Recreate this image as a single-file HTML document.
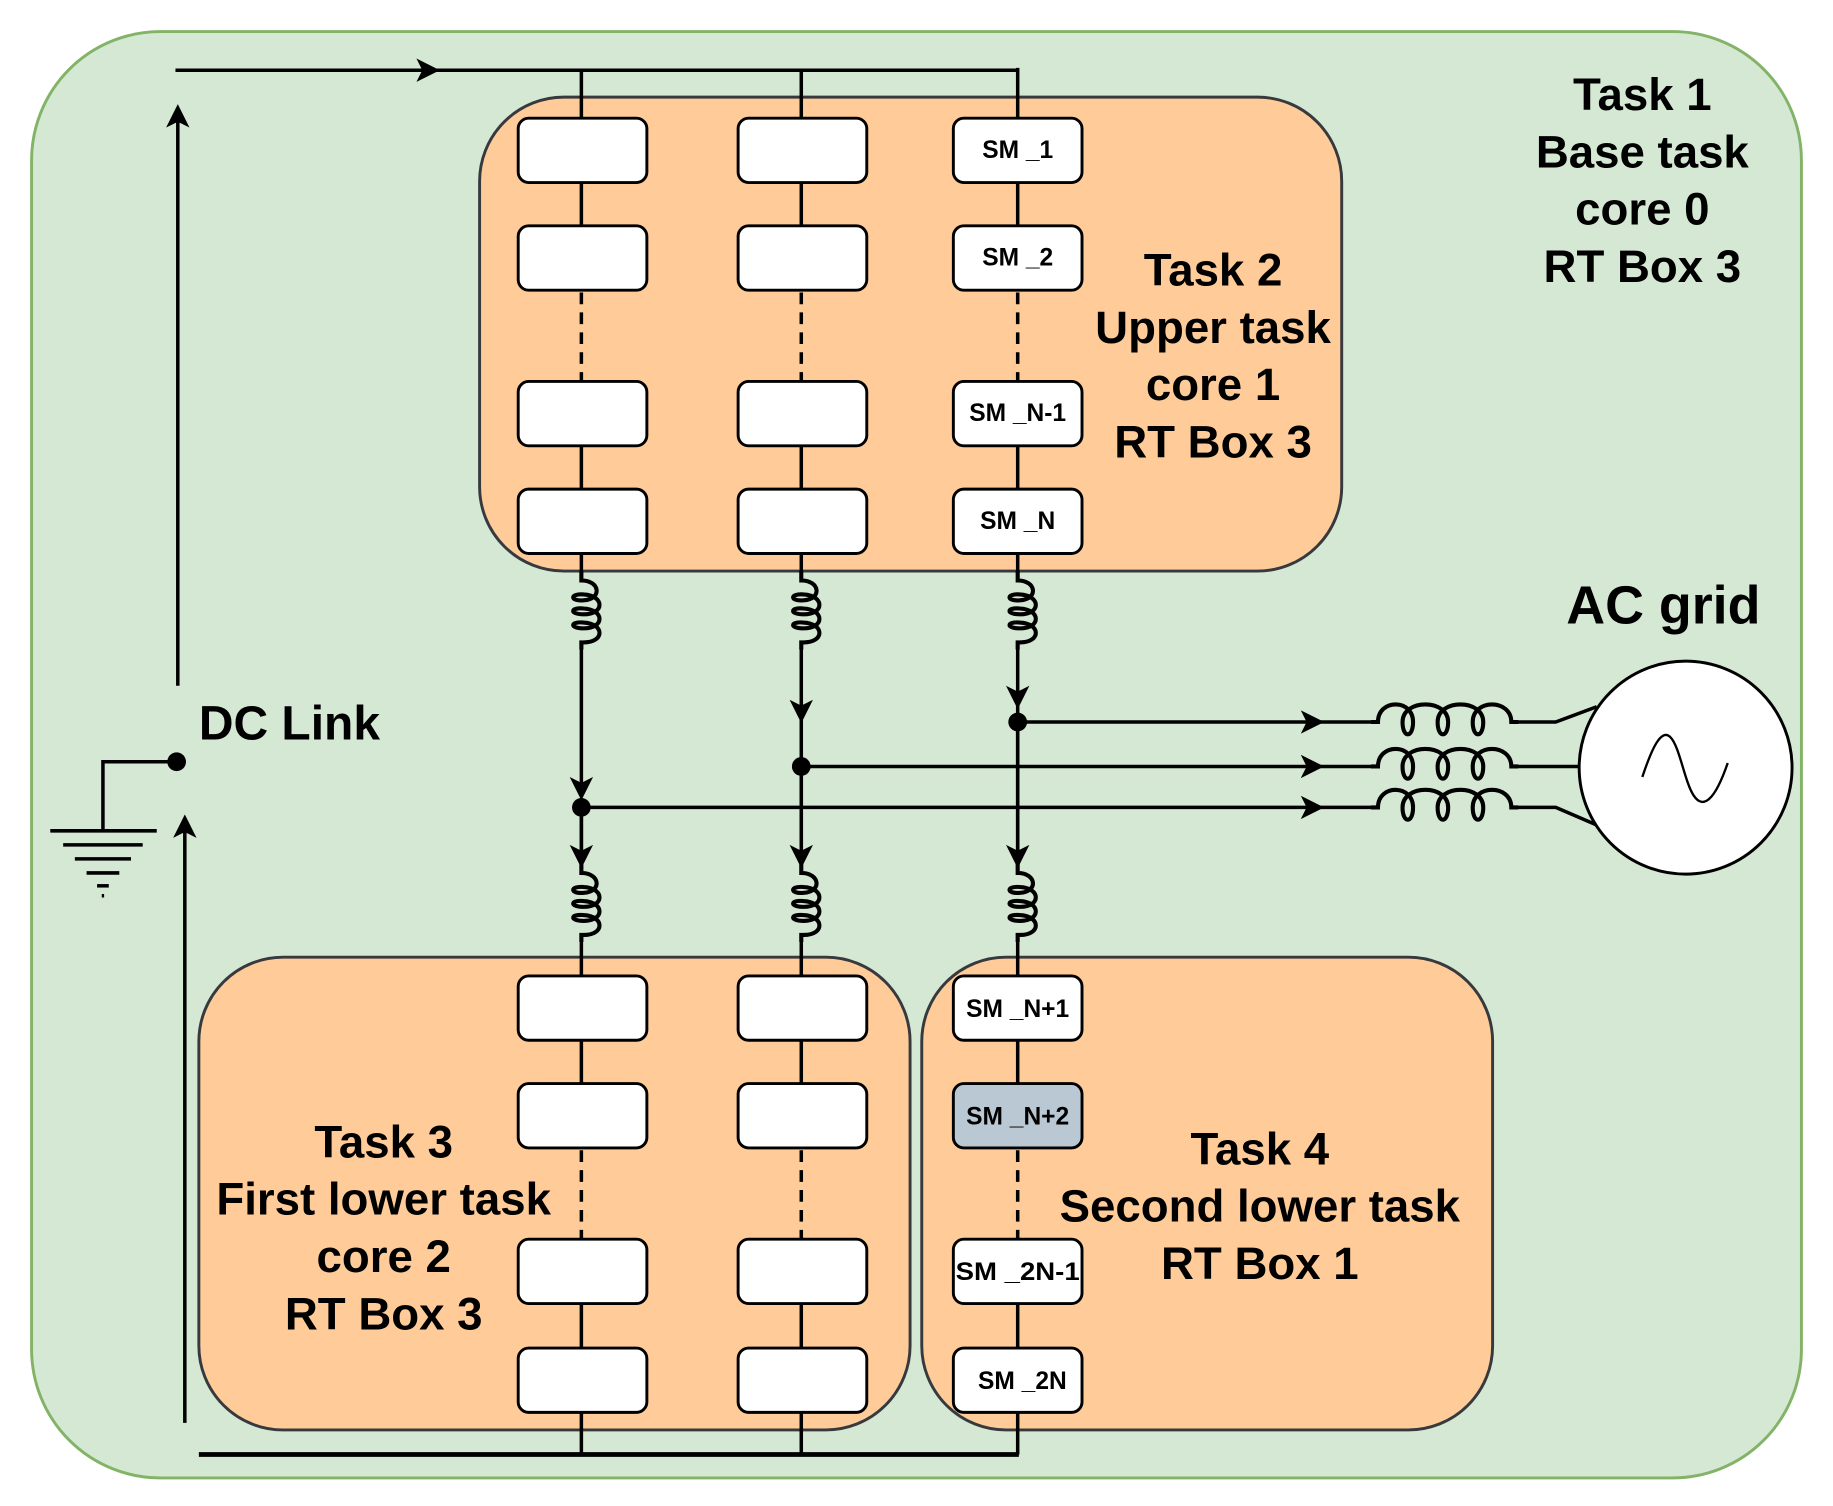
<!DOCTYPE html>
<html><head><meta charset="utf-8"><style>html,body{margin:0;padding:0;background:#fff}svg{display:block}</style></head>
<body>
<svg width="1833" height="1506" viewBox="0 0 1567 1287" preserveAspectRatio="none" xmlns="http://www.w3.org/2000/svg" font-family="Liberation Sans, Arial, sans-serif" font-weight="bold">
<defs>
<marker id="ah" viewBox="0 0 20 20" refX="16" refY="10" markerWidth="20" markerHeight="20" markerUnits="userSpaceOnUse" orient="auto">
<path d="M0 0 L20 10 L0 20 L5 10 Z" fill="#000"/>
</marker>
<g id="coilv" fill="none" stroke="#000" stroke-width="3.5">
<path d="M0 0 v8 c16 0 18 16 2 17 c-12 1 -12 -6 0 -5 c18 1 18 17 0 17 c-12 0 -12 -6 0 -5 c18 1 18 17 0 17 c-12 0 -12 -6 0 -5 c18 1 18 17 0 17 c-2 0 -2 0 -2 0 v6"/>
</g>
<g id="coilh" fill="none" stroke="#000" stroke-width="3.5">
<path d="M0 0 h6 c0 -20 30 -20 30 0 c0 14 -9 14 -9 0 c0 -20 39 -20 39 0 c0 14 -9 14 -9 0 c0 -20 39 -20 39 0 c0 14 -9 14 -9 0 c0 -20 33 -20 33 0 h6"/>
</g>
</defs>
<rect x="27" y="27" width="1513" height="1236" rx="110" fill="#d5e8d4" stroke="#82b366" stroke-width="2.5"/>

<rect x="410" y="83" width="737" height="405" rx="72" fill="#ffcc99" stroke="#36393d" stroke-width="2.5"/>
<rect x="170" y="818" width="608" height="404" rx="72" fill="#ffcc99" stroke="#36393d" stroke-width="2.5"/>
<rect x="788" y="818" width="488" height="404" rx="72" fill="#ffcc99" stroke="#36393d" stroke-width="2.5"/>

<g stroke="#000" stroke-width="3" fill="none">
<line x1="150" y1="60" x2="372" y2="60" marker-end="url(#ah)"/>
<line x1="360" y1="60" x2="871" y2="60"/>
<line x1="497" y1="60" x2="497" y2="101"/>
<line x1="685" y1="60" x2="685" y2="101"/>
<line x1="870" y1="58" x2="870" y2="101"/>
<line x1="497" y1="156" x2="497" y2="193"/><line x1="685" y1="156" x2="685" y2="193"/><line x1="870" y1="156" x2="870" y2="193"/>
<line x1="497" y1="381" x2="497" y2="418"/><line x1="685" y1="381" x2="685" y2="418"/><line x1="870" y1="381" x2="870" y2="418"/>
<line x1="497" y1="473" x2="497" y2="490"/><line x1="685" y1="473" x2="685" y2="490"/><line x1="870" y1="473" x2="870" y2="490"/>
<g stroke-dasharray="10 7">
<line x1="497" y1="250" x2="497" y2="326"/><line x1="685" y1="250" x2="685" y2="326"/><line x1="870" y1="250" x2="870" y2="326"/>
<line x1="497" y1="983" x2="497" y2="1059"/><line x1="685" y1="983" x2="685" y2="1059"/><line x1="870" y1="983" x2="870" y2="1059"/>
</g>
<line x1="497" y1="889" x2="497" y2="926"/><line x1="685" y1="889" x2="685" y2="926"/><line x1="870" y1="889" x2="870" y2="926"/>
<line x1="497" y1="1114" x2="497" y2="1152"/><line x1="685" y1="1114" x2="685" y2="1152"/><line x1="870" y1="1114" x2="870" y2="1152"/>
<line x1="497" y1="1207" x2="497" y2="1243"/><line x1="685" y1="1207" x2="685" y2="1243"/><line x1="870" y1="1207" x2="870" y2="1243"/>
<line x1="170" y1="1243" x2="871" y2="1243" stroke-width="4"/>
<!-- links under coils -->
<line x1="497" y1="548" x2="497" y2="680" marker-end="url(#ah)"/>
<line x1="685" y1="548" x2="685" y2="614" marker-end="url(#ah)"/>
<line x1="870" y1="548" x2="870" y2="602" marker-end="url(#ah)"/>
<line x1="685" y1="600" x2="685" y2="745"/>
<line x1="870" y1="600" x2="870" y2="745"/>
<line x1="497" y1="690" x2="497" y2="745"/>
<line x1="497" y1="690" x2="497" y2="738" marker-end="url(#ah)"/>
<line x1="685" y1="655" x2="685" y2="738" marker-end="url(#ah)"/>
<line x1="870" y1="617" x2="870" y2="738" marker-end="url(#ah)"/>
<line x1="497" y1="798" x2="497" y2="834"/><line x1="685" y1="798" x2="685" y2="834"/><line x1="870" y1="798" x2="870" y2="834"/>
<line x1="870" y1="617" x2="1128" y2="617" marker-end="url(#ah)"/>
<line x1="685" y1="655" x2="1128" y2="655" marker-end="url(#ah)"/>
<line x1="497" y1="690" x2="1128" y2="690" marker-end="url(#ah)"/>
<line x1="1120" y1="617" x2="1175" y2="617"/>
<line x1="1120" y1="655" x2="1175" y2="655"/>
<line x1="1120" y1="690" x2="1175" y2="690"/>
<polyline points="1296,617 1330,617 1365,604"/>
<line x1="1296" y1="655" x2="1352" y2="655"/>
<polyline points="1296,690 1330,690 1365,705"/>
<line x1="152" y1="586" x2="152" y2="93" marker-end="url(#ah)"/>
<line x1="158" y1="1216" x2="158" y2="700" marker-end="url(#ah)"/>
<polyline points="151,651 88,651 88,710"/>
<line x1="43" y1="710" x2="134" y2="710"/>
<line x1="54" y1="722" x2="122" y2="722"/>
<line x1="64" y1="734" x2="112" y2="734"/>
<line x1="74" y1="746" x2="102" y2="746"/>
<line x1="83" y1="757" x2="93" y2="757"/>
<line x1="88" y1="764" x2="88" y2="767" stroke-width="2"/>
</g>

<use href="#coilv" x="497" y="488"/><use href="#coilv" x="685" y="488"/><use href="#coilv" x="870" y="488"/>
<use href="#coilv" x="497" y="738"/><use href="#coilv" x="685" y="738"/><use href="#coilv" x="870" y="738"/>
<use href="#coilh" x="1172" y="617"/><use href="#coilh" x="1172" y="655"/><use href="#coilh" x="1172" y="690"/>

<g fill="#000">
<circle cx="870" cy="617" r="8"/><circle cx="685" cy="655" r="8"/><circle cx="497" cy="690" r="8"/>
<circle cx="151" cy="651" r="8"/>
</g>

<circle cx="1441" cy="656" r="91" fill="#fff" stroke="#000" stroke-width="2.5"/>
<path d="M1404 664 C1412 640 1420 622 1428 630 C1436 638 1440 668 1448 680 C1456 692 1466 684 1477 652" fill="none" stroke="#000" stroke-width="2"/>

<g fill="#fff" stroke="#000" stroke-width="2.5">
<rect x="443" y="101" width="110" height="55" rx="9"/><rect x="631" y="101" width="110" height="55" rx="9"/><rect x="815" y="101" width="110" height="55" rx="9"/>
<rect x="443" y="193" width="110" height="55" rx="9"/><rect x="631" y="193" width="110" height="55" rx="9"/><rect x="815" y="193" width="110" height="55" rx="9"/>
<rect x="443" y="326" width="110" height="55" rx="9"/><rect x="631" y="326" width="110" height="55" rx="9"/><rect x="815" y="326" width="110" height="55" rx="9"/>
<rect x="443" y="418" width="110" height="55" rx="9"/><rect x="631" y="418" width="110" height="55" rx="9"/><rect x="815" y="418" width="110" height="55" rx="9"/>
<rect x="443" y="834" width="110" height="55" rx="9"/><rect x="631" y="834" width="110" height="55" rx="9"/><rect x="815" y="834" width="110" height="55" rx="9"/>
<rect x="443" y="926" width="110" height="55" rx="9"/><rect x="631" y="926" width="110" height="55" rx="9"/><rect x="815" y="926" width="110" height="55" rx="9" fill="#bac8d3"/>
<rect x="443" y="1059" width="110" height="55" rx="9"/><rect x="631" y="1059" width="110" height="55" rx="9"/><rect x="815" y="1059" width="110" height="55" rx="9"/>
<rect x="443" y="1152" width="110" height="55" rx="9"/><rect x="631" y="1152" width="110" height="55" rx="9"/><rect x="815" y="1152" width="110" height="55" rx="9"/>
</g>
<g font-size="21" text-anchor="middle" fill="#000">
<text x="870" y="135">SM _1</text>
<text x="870" y="227">SM _2</text>
<text x="870" y="360">SM _N-1</text>
<text x="870" y="452">SM _N</text>
<text x="870" y="869">SM _N+1</text>
<text x="870" y="961">SM _N+2</text>
<text x="870" y="1094" textLength="106" lengthAdjust="spacingAndGlyphs">SM _2N-1</text>
<text x="874" y="1187">SM _2N</text>
</g>

<g font-size="39" text-anchor="middle" fill="#000">
<text x="1404" y="94">Task 1</text>
<text x="1404" y="143">Base task</text>
<text x="1404" y="192">core 0</text>
<text x="1404" y="241">RT Box 3</text>
<text x="1037" y="244">Task 2</text>
<text x="1037" y="293">Upper task</text>
<text x="1037" y="342">core 1</text>
<text x="1037" y="391">RT Box 3</text>
<text x="328" y="989">Task 3</text>
<text x="328" y="1038">First lower task</text>
<text x="328" y="1087">core 2</text>
<text x="328" y="1136">RT Box 3</text>
<text x="1077" y="995">Task 4</text>
<text x="1077" y="1044">Second lower task</text>
<text x="1077" y="1093">RT Box 1</text>
</g>
<text x="1422" y="533" font-size="46" text-anchor="middle">AC grid</text>
<text x="170" y="632" font-size="41">DC Link</text>
</svg>
</body></html>
